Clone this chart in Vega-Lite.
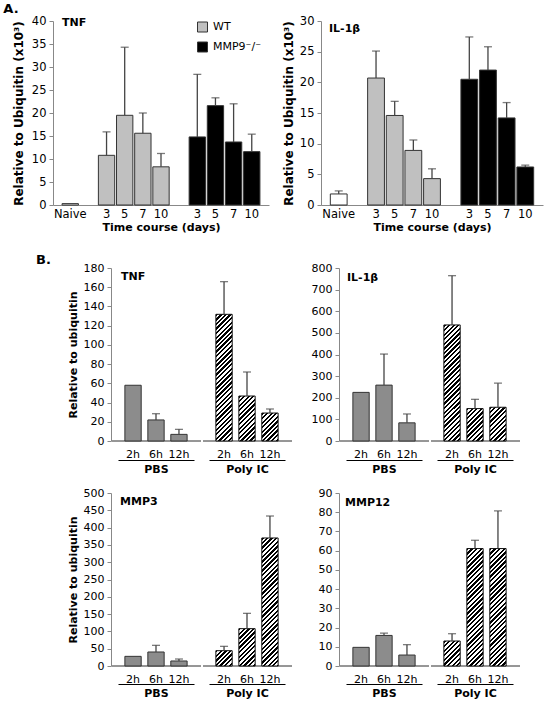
{
"$schema":"https://vega.github.io/schema/vega-lite/v6.json",
"background":"white",
"padding":{"left":3,"top":2,"right":2,"bottom":2},
"params":[{"name":"hs","value":[
{"offset":0,"color":"#000"},
{"offset":0.015625,"color":"#000"},{"offset":0.015625,"color":"#fff"},
{"offset":0.03125,"color":"#fff"},{"offset":0.03125,"color":"#000"},
{"offset":0.046875,"color":"#000"},{"offset":0.046875,"color":"#fff"},
{"offset":0.0625,"color":"#fff"},{"offset":0.0625,"color":"#000"},
{"offset":0.078125,"color":"#000"},{"offset":0.078125,"color":"#fff"},
{"offset":0.09375,"color":"#fff"},{"offset":0.09375,"color":"#000"},
{"offset":0.109375,"color":"#000"},{"offset":0.109375,"color":"#fff"},
{"offset":0.125,"color":"#fff"},{"offset":0.125,"color":"#000"},
{"offset":0.140625,"color":"#000"},{"offset":0.140625,"color":"#fff"},
{"offset":0.15625,"color":"#fff"},{"offset":0.15625,"color":"#000"},
{"offset":0.171875,"color":"#000"},{"offset":0.171875,"color":"#fff"},
{"offset":0.1875,"color":"#fff"},{"offset":0.1875,"color":"#000"},
{"offset":0.203125,"color":"#000"},{"offset":0.203125,"color":"#fff"},
{"offset":0.21875,"color":"#fff"},{"offset":0.21875,"color":"#000"},
{"offset":0.234375,"color":"#000"},{"offset":0.234375,"color":"#fff"},
{"offset":0.25,"color":"#fff"},{"offset":0.25,"color":"#000"},
{"offset":0.265625,"color":"#000"},{"offset":0.265625,"color":"#fff"},
{"offset":0.28125,"color":"#fff"},{"offset":0.28125,"color":"#000"},
{"offset":0.296875,"color":"#000"},{"offset":0.296875,"color":"#fff"},
{"offset":0.3125,"color":"#fff"},{"offset":0.3125,"color":"#000"},
{"offset":0.328125,"color":"#000"},{"offset":0.328125,"color":"#fff"},
{"offset":0.34375,"color":"#fff"},{"offset":0.34375,"color":"#000"},
{"offset":0.359375,"color":"#000"},{"offset":0.359375,"color":"#fff"},
{"offset":0.375,"color":"#fff"},{"offset":0.375,"color":"#000"},
{"offset":0.390625,"color":"#000"},{"offset":0.390625,"color":"#fff"},
{"offset":0.40625,"color":"#fff"},{"offset":0.40625,"color":"#000"},
{"offset":0.421875,"color":"#000"},{"offset":0.421875,"color":"#fff"},
{"offset":0.4375,"color":"#fff"},{"offset":0.4375,"color":"#000"},
{"offset":0.453125,"color":"#000"},{"offset":0.453125,"color":"#fff"},
{"offset":0.46875,"color":"#fff"},{"offset":0.46875,"color":"#000"},
{"offset":0.484375,"color":"#000"},{"offset":0.484375,"color":"#fff"},
{"offset":0.5,"color":"#fff"},{"offset":0.5,"color":"#000"},
{"offset":0.515625,"color":"#000"},{"offset":0.515625,"color":"#fff"},
{"offset":0.53125,"color":"#fff"},{"offset":0.53125,"color":"#000"},
{"offset":0.546875,"color":"#000"},{"offset":0.546875,"color":"#fff"},
{"offset":0.5625,"color":"#fff"},{"offset":0.5625,"color":"#000"},
{"offset":0.578125,"color":"#000"},{"offset":0.578125,"color":"#fff"},
{"offset":0.59375,"color":"#fff"},{"offset":0.59375,"color":"#000"},
{"offset":0.609375,"color":"#000"},{"offset":0.609375,"color":"#fff"},
{"offset":0.625,"color":"#fff"},{"offset":0.625,"color":"#000"},
{"offset":0.640625,"color":"#000"},{"offset":0.640625,"color":"#fff"},
{"offset":0.65625,"color":"#fff"},{"offset":0.65625,"color":"#000"},
{"offset":0.671875,"color":"#000"},{"offset":0.671875,"color":"#fff"},
{"offset":0.6875,"color":"#fff"},{"offset":0.6875,"color":"#000"},
{"offset":0.703125,"color":"#000"},{"offset":0.703125,"color":"#fff"},
{"offset":0.71875,"color":"#fff"},{"offset":0.71875,"color":"#000"},
{"offset":0.734375,"color":"#000"},{"offset":0.734375,"color":"#fff"},
{"offset":0.75,"color":"#fff"},{"offset":0.75,"color":"#000"},
{"offset":0.765625,"color":"#000"},{"offset":0.765625,"color":"#fff"},
{"offset":0.78125,"color":"#fff"},{"offset":0.78125,"color":"#000"},
{"offset":0.796875,"color":"#000"},{"offset":0.796875,"color":"#fff"},
{"offset":0.8125,"color":"#fff"},{"offset":0.8125,"color":"#000"},
{"offset":0.828125,"color":"#000"},{"offset":0.828125,"color":"#fff"},
{"offset":0.84375,"color":"#fff"},{"offset":0.84375,"color":"#000"},
{"offset":0.859375,"color":"#000"},{"offset":0.859375,"color":"#fff"},
{"offset":0.875,"color":"#fff"},{"offset":0.875,"color":"#000"},
{"offset":0.890625,"color":"#000"},{"offset":0.890625,"color":"#fff"},
{"offset":0.90625,"color":"#fff"},{"offset":0.90625,"color":"#000"},
{"offset":0.921875,"color":"#000"},{"offset":0.921875,"color":"#fff"},
{"offset":0.9375,"color":"#fff"},{"offset":0.9375,"color":"#000"},
{"offset":0.953125,"color":"#000"},{"offset":0.953125,"color":"#fff"},
{"offset":0.96875,"color":"#fff"},{"offset":0.96875,"color":"#000"},
{"offset":0.984375,"color":"#000"},{"offset":0.984375,"color":"#fff"},
{"offset":1,"color":"#fff"}
]}],
"datasets":{
"a":[
{"gene":"TNF","slot":"Naive","geno":"Naive","v":0.3,"hi":null},
{"gene":"TNF","slot":"W3","geno":"WT","v":10.8,"hi":15.9},
{"gene":"TNF","slot":"W5","geno":"WT","v":19.5,"hi":34.3},
{"gene":"TNF","slot":"W7","geno":"WT","v":15.6,"hi":20.0},
{"gene":"TNF","slot":"W10","geno":"WT","v":8.3,"hi":11.2},
{"gene":"TNF","slot":"K3","geno":"MMP9⁻/⁻","v":14.8,"hi":28.4},
{"gene":"TNF","slot":"K5","geno":"MMP9⁻/⁻","v":21.6,"hi":23.3},
{"gene":"TNF","slot":"K7","geno":"MMP9⁻/⁻","v":13.7,"hi":22.0},
{"gene":"TNF","slot":"K10","geno":"MMP9⁻/⁻","v":11.6,"hi":15.4},
{"gene":"IL-1β","slot":"Naive","geno":"Naive","v":1.8,"hi":2.3},
{"gene":"IL-1β","slot":"W3","geno":"WT","v":20.7,"hi":25.1},
{"gene":"IL-1β","slot":"W5","geno":"WT","v":14.6,"hi":16.9},
{"gene":"IL-1β","slot":"W7","geno":"WT","v":8.9,"hi":10.6},
{"gene":"IL-1β","slot":"W10","geno":"WT","v":4.3,"hi":5.9},
{"gene":"IL-1β","slot":"K3","geno":"MMP9⁻/⁻","v":20.5,"hi":27.4},
{"gene":"IL-1β","slot":"K5","geno":"MMP9⁻/⁻","v":22.0,"hi":25.8},
{"gene":"IL-1β","slot":"K7","geno":"MMP9⁻/⁻","v":14.2,"hi":16.7},
{"gene":"IL-1β","slot":"K10","geno":"MMP9⁻/⁻","v":6.2,"hi":6.5}
],
"b":[
{"gene":"TNF","grp":"PBS","t":"2h","v":58,"hi":null},
{"gene":"TNF","grp":"PBS","t":"6h","v":21.9,"hi":28.4},
{"gene":"TNF","grp":"PBS","t":"12h","v":6.9,"hi":12.1},
{"gene":"TNF","grp":"Poly IC","t":"2h","v":131.8,"hi":165.8},
{"gene":"TNF","grp":"Poly IC","t":"6h","v":46.8,"hi":71.8},
{"gene":"TNF","grp":"Poly IC","t":"12h","v":29.1,"hi":33.3},
{"gene":"IL-1β","grp":"PBS","t":"2h","v":224.8,"hi":null},
{"gene":"IL-1β","grp":"PBS","t":"6h","v":258.4,"hi":402},
{"gene":"IL-1β","grp":"PBS","t":"12h","v":84,"hi":125},
{"gene":"IL-1β","grp":"Poly IC","t":"2h","v":536.7,"hi":764.5},
{"gene":"IL-1β","grp":"Poly IC","t":"6h","v":149.9,"hi":192.7},
{"gene":"IL-1β","grp":"Poly IC","t":"12h","v":156,"hi":267.6},
{"gene":"MMP3","grp":"PBS","t":"2h","v":27.9,"hi":null},
{"gene":"MMP3","grp":"PBS","t":"6h","v":40.5,"hi":59.7},
{"gene":"MMP3","grp":"PBS","t":"12h","v":14.5,"hi":20.2},
{"gene":"MMP3","grp":"Poly IC","t":"2h","v":44.3,"hi":56.8},
{"gene":"MMP3","grp":"Poly IC","t":"6h","v":107.9,"hi":152.2},
{"gene":"MMP3","grp":"Poly IC","t":"12h","v":370,"hi":433.5},
{"gene":"MMP12","grp":"PBS","t":"2h","v":9.7,"hi":null},
{"gene":"MMP12","grp":"PBS","t":"6h","v":15.9,"hi":17.1},
{"gene":"MMP12","grp":"PBS","t":"12h","v":5.7,"hi":11.1},
{"gene":"MMP12","grp":"Poly IC","t":"2h","v":13,"hi":16.8},
{"gene":"MMP12","grp":"Poly IC","t":"6h","v":61.1,"hi":65.4},
{"gene":"MMP12","grp":"Poly IC","t":"12h","v":61.1,"hi":80.7}
]},
"config":{
"font":"DejaVu Sans",
"view":{"stroke":null},
"axis":{"labelFont":"DejaVu Sans","labelFontSize":11,"labelColor":"#000","titleFont":"DejaVu Sans","titleFontSize":11,"titleFontWeight":"bold","titleColor":"#000","domainColor":"#888","tickColor":"#888","grid":false,"labelOverlap":false},
"title":{"font":"DejaVu Sans","fontSize":11,"fontWeight":"bold","anchor":"start","color":"#000","baseline":"alphabetic"},
"header":{"labelFont":"DejaVu Sans","labelFontSize":11,"labelFontWeight":"bold","labelColor":"#000"}
},
"spacing":21,
"vconcat":[
{
"title":{"text":"A.","fontSize":13,"frame":"bounds","dx":-9,"offset":-0.5},
"spacing":13,
"resolve":{"legend":{"fill":"independent"}},
"hconcat":[
{
"width":216,"height":184,
"data":{"name":"a"},
"transform":[{"filter":"datum.gene==='TNF'"}],
"title":{"text":"TNF","frame":"group","dx":9,"offset":-12.5},
"encoding":{
"x":{"field":"slot","type":"nominal","scale":{"domain":["Naive","g1","W3","W5","W7","W10","g2","K3","K5","K7","K10"],"paddingInner":0.1,"paddingOuter":0.5},"axis":{"title":"Time course (days)","labelAngle":0,"ticks":false,"labelPadding":3,"titlePadding":2,"labelFontSize":11.5,"labelOverlap":false,"labelExpr":"datum.label=='Naive' ? 'Naive' : (substring(datum.label,0,1)=='g' ? '' : substring(datum.label,1))"}},
"y":{"field":"v","type":"quantitative","scale":{"domain":[0,40],"nice":false},"axis":{"values":[0,5,10,15,20,25,30,35,40],"tickCount":9,"labelOverlap":false,"title":"Relative to Ubiquitin (x10³)","titleFontSize":12,"labelFontSize":11.5,"tickSize":4,"labelPadding":3,"titlePadding":6}}
},
"layer":[
{"mark":{"type":"bar","stroke":"#333","strokeWidth":1},
"encoding":{
"fill":{"field":"geno","type":"nominal","scale":{"domain":["Naive","WT","MMP9⁻/⁻"],"range":["#ffffff","#c0c0c0","#000000"]},"legend":{"title":null,"orient":"none","legendX":144,"legendY":0.5,"values":["WT","MMP9⁻/⁻"],"symbolType":"square","symbolSize":100,"symbolStrokeColor":"#333","symbolStrokeWidth":1,"labelFontSize":11,"labelColor":"#000","rowPadding":5,"labelOffset":5,"padding":0}}
}},
{"transform":[{"filter":"isValid(datum.hi)"}],"mark":{"type":"rule","color":"#444","strokeWidth":1.3},
"encoding":{"y2":{"field":"hi"}}},
{"transform":[{"filter":"isValid(datum.hi)"}],"mark":{"type":"tick","color":"#444","thickness":1.3,"size":8},
"encoding":{"y":{"field":"hi","type":"quantitative"}}}
]
},
{
"width":222,"height":184,
"data":{"name":"a"},
"transform":[{"filter":"datum.gene==='IL-1β'"}],
"title":{"text":"IL-1β","frame":"group","dx":8,"offset":-18.5},
"encoding":{
"x":{"field":"slot","type":"nominal","scale":{"domain":["Naive","g1","W3","W5","W7","W10","g2","K3","K5","K7","K10"],"paddingInner":0.1,"paddingOuter":0.5},"axis":{"title":"Time course (days)","labelAngle":0,"ticks":false,"labelPadding":3,"titlePadding":2,"labelFontSize":11.5,"labelOverlap":false,"labelExpr":"datum.label=='Naive' ? 'Naive' : (substring(datum.label,0,1)=='g' ? '' : substring(datum.label,1))"}},
"y":{"field":"v","type":"quantitative","scale":{"domain":[0,30],"nice":false},"axis":{"values":[0,5,10,15,20,25,30],"tickCount":7,"labelOverlap":false,"title":"Relative to Ubiquitin (x10³)","titleFontSize":12,"labelFontSize":11.5,"tickSize":4,"labelPadding":3,"titlePadding":4}}
},
"layer":[
{"mark":{"type":"bar","stroke":"#333","strokeWidth":1},
"encoding":{
"fill":{"field":"geno","type":"nominal","scale":{"domain":["Naive","WT","MMP9⁻/⁻"],"range":["#ffffff","#c0c0c0","#000000"]},"legend":null}
}},
{"transform":[{"filter":"isValid(datum.hi)"}],"mark":{"type":"rule","color":"#444","strokeWidth":1.3},
"encoding":{"y2":{"field":"hi"}}},
{"transform":[{"filter":"isValid(datum.hi)"}],"mark":{"type":"tick","color":"#444","thickness":1.3,"size":8},
"encoding":{"y":{"field":"hi","type":"quantitative"}}}
]
}
]
},
{
"spacing":4,
"hconcat":[
{
"width":10,"height":10,
"data":{"values":[{"k":1}]},
"title":{"text":"B.","fontSize":13,"frame":"group","dx":-17,"offset":0},
"mark":{"type":"text","text":""},
"encoding":{}
},
{
"spacing":12,
"vconcat":[
{"spacing":18,"hconcat":[
{
"data":{"name":"b"},
"transform":[{"filter":"datum.gene==='TNF'"}],
"title":{"text":"TNF","frame":"group","dx":9,"offset":-19.5},
"facet":{"column":{"field":"grp","type":"nominal","sort":["PBS","Poly IC"],"header":{"title":null,"labelOrient":"bottom","labelPadding":4}}},
"spacing":0,
"spec":{"width":89,"height":173,
"encoding":{
"x":{"field":"t","type":"nominal","sort":["2h","6h","12h"],"scale":{"range":[6,82],"paddingInner":0.29,"paddingOuter":0.3},"axis":{"title":null,"labelAngle":0,"ticks":false,"offset":18,"domainColor":"#000","labelPadding":-11.5,"labelOverlap":false}},
"y":{"field":"v","type":"quantitative","scale":{"domain":[0,180],"nice":false},"axis":{"values":[0,20,40,60,80,100,120,140,160,180],"tickCount":10,"labelOverlap":false,"title":"Relative to ubiquitin","tickSize":4,"labelPadding":3,"titlePadding":4.5}}
},
"layer":[
{"mark":{"type":"rule","color":"#888"},"encoding":{"x":null,"y":{"datum":0,"type":"quantitative"}}},
{"transform":[{"filter":"datum.grp==='PBS'"}],"mark":{"type":"bar","fill":"#8c8c8c","stroke":"#333","strokeWidth":1}},
{"transform":[{"filter":"datum.grp==='Poly IC'"}],"mark":{"type":"bar","stroke":"#111","strokeWidth":1,"fill":{"expr":"{gradient:'linear',x1:0,y1:0,x2:147*16.3/(265.7+pow(datum.v*0.9611,2)),y2:147*datum.v*0.9611/(265.7+pow(datum.v*0.9611,2)),stops:hs}"}}},
{"transform":[{"filter":"isValid(datum.hi)"}],"mark":{"type":"rule","color":"#444","strokeWidth":1.3},"encoding":{"y2":{"field":"hi"}}},
{"transform":[{"filter":"isValid(datum.hi)"}],"mark":{"type":"tick","color":"#444","thickness":1.3,"size":8},"encoding":{"y":{"field":"hi","type":"quantitative"}}}
]}
},
{
"data":{"name":"b"},
"transform":[{"filter":"datum.gene==='IL-1β'"}],
"title":{"text":"IL-1β","frame":"group","dx":7,"offset":-20.5},
"facet":{"column":{"field":"grp","type":"nominal","sort":["PBS","Poly IC"],"header":{"title":null,"labelOrient":"bottom","labelPadding":4}}},
"spacing":0,
"spec":{"width":89,"height":173,
"encoding":{
"x":{"field":"t","type":"nominal","sort":["2h","6h","12h"],"scale":{"range":[6,82],"paddingInner":0.29,"paddingOuter":0.3},"axis":{"title":null,"labelAngle":0,"ticks":false,"offset":18,"domainColor":"#000","labelPadding":-11.5,"labelOverlap":false}},
"y":{"field":"v","type":"quantitative","scale":{"domain":[0,800],"nice":false},"axis":{"values":[0,100,200,300,400,500,600,700,800],"tickCount":9,"labelOverlap":false,"title":null,"tickSize":4,"labelPadding":3}}
},
"layer":[
{"mark":{"type":"rule","color":"#888"},"encoding":{"x":null,"y":{"datum":0,"type":"quantitative"}}},
{"transform":[{"filter":"datum.grp==='PBS'"}],"mark":{"type":"bar","fill":"#8c8c8c","stroke":"#333","strokeWidth":1}},
{"transform":[{"filter":"datum.grp==='Poly IC'"}],"mark":{"type":"bar","stroke":"#111","strokeWidth":1,"fill":{"expr":"{gradient:'linear',x1:0,y1:0,x2:147*16.3/(265.7+pow(datum.v*0.21625,2)),y2:147*datum.v*0.21625/(265.7+pow(datum.v*0.21625,2)),stops:hs}"}}},
{"transform":[{"filter":"isValid(datum.hi)"}],"mark":{"type":"rule","color":"#444","strokeWidth":1.3},"encoding":{"y2":{"field":"hi"}}},
{"transform":[{"filter":"isValid(datum.hi)"}],"mark":{"type":"tick","color":"#444","thickness":1.3,"size":8},"encoding":{"y":{"field":"hi","type":"quantitative"}}}
]}
}
]},
{"spacing":25,"hconcat":[
{
"data":{"name":"b"},
"transform":[{"filter":"datum.gene==='MMP3'"}],
"title":{"text":"MMP3","frame":"group","dx":8,"offset":-19.5},
"facet":{"column":{"field":"grp","type":"nominal","sort":["PBS","Poly IC"],"header":{"title":null,"labelOrient":"bottom","labelPadding":3}}},
"spacing":0,
"spec":{"width":89,"height":173,
"encoding":{
"x":{"field":"t","type":"nominal","sort":["2h","6h","12h"],"scale":{"range":[6,82],"paddingInner":0.29,"paddingOuter":0.3},"axis":{"title":null,"labelAngle":0,"ticks":false,"offset":17,"domainColor":"#000","labelPadding":-10.5,"labelOverlap":false}},
"y":{"field":"v","type":"quantitative","scale":{"domain":[0,500],"nice":false},"axis":{"values":[0,50,100,150,200,250,300,350,400,450,500],"tickCount":11,"labelOverlap":false,"title":"Relative to ubiquitin","tickSize":4,"labelPadding":3,"titlePadding":4.5}}
},
"layer":[
{"mark":{"type":"rule","color":"#888"},"encoding":{"x":null,"y":{"datum":0,"type":"quantitative"}}},
{"transform":[{"filter":"datum.grp==='PBS'"}],"mark":{"type":"bar","fill":"#8c8c8c","stroke":"#333","strokeWidth":1}},
{"transform":[{"filter":"datum.grp==='Poly IC'"}],"mark":{"type":"bar","stroke":"#111","strokeWidth":1,"fill":{"expr":"{gradient:'linear',x1:0,y1:0,x2:147*16.3/(265.7+pow(datum.v*0.346,2)),y2:147*datum.v*0.346/(265.7+pow(datum.v*0.346,2)),stops:hs}"}}},
{"transform":[{"filter":"isValid(datum.hi)"}],"mark":{"type":"rule","color":"#444","strokeWidth":1.3},"encoding":{"y2":{"field":"hi"}}},
{"transform":[{"filter":"isValid(datum.hi)"}],"mark":{"type":"tick","color":"#444","thickness":1.3,"size":8},"encoding":{"y":{"field":"hi","type":"quantitative"}}}
]}
},
{
"data":{"name":"b"},
"transform":[{"filter":"datum.gene==='MMP12'"}],
"title":{"text":"MMP12","frame":"group","dx":5,"offset":-20.5},
"facet":{"column":{"field":"grp","type":"nominal","sort":["PBS","Poly IC"],"header":{"title":null,"labelOrient":"bottom","labelPadding":3}}},
"spacing":0,
"spec":{"width":89,"height":173,
"encoding":{
"x":{"field":"t","type":"nominal","sort":["2h","6h","12h"],"scale":{"range":[6,82],"paddingInner":0.29,"paddingOuter":0.3},"axis":{"title":null,"labelAngle":0,"ticks":false,"offset":17,"domainColor":"#000","labelPadding":-10.5,"labelOverlap":false}},
"y":{"field":"v","type":"quantitative","scale":{"domain":[0,90],"nice":false},"axis":{"values":[0,10,20,30,40,50,60,70,80,90],"tickCount":10,"labelOverlap":false,"title":null,"tickSize":4,"labelPadding":3}}
},
"layer":[
{"mark":{"type":"rule","color":"#888"},"encoding":{"x":null,"y":{"datum":0,"type":"quantitative"}}},
{"transform":[{"filter":"datum.grp==='PBS'"}],"mark":{"type":"bar","fill":"#8c8c8c","stroke":"#333","strokeWidth":1}},
{"transform":[{"filter":"datum.grp==='Poly IC'"}],"mark":{"type":"bar","stroke":"#111","strokeWidth":1,"fill":{"expr":"{gradient:'linear',x1:0,y1:0,x2:147*16.3/(265.7+pow(datum.v*1.9222,2)),y2:147*datum.v*1.9222/(265.7+pow(datum.v*1.9222,2)),stops:hs}"}}},
{"transform":[{"filter":"isValid(datum.hi)"}],"mark":{"type":"rule","color":"#444","strokeWidth":1.3},"encoding":{"y2":{"field":"hi"}}},
{"transform":[{"filter":"isValid(datum.hi)"}],"mark":{"type":"tick","color":"#444","thickness":1.3,"size":8},"encoding":{"y":{"field":"hi","type":"quantitative"}}}
]}
}
]}
]
}
]
}
]
}
